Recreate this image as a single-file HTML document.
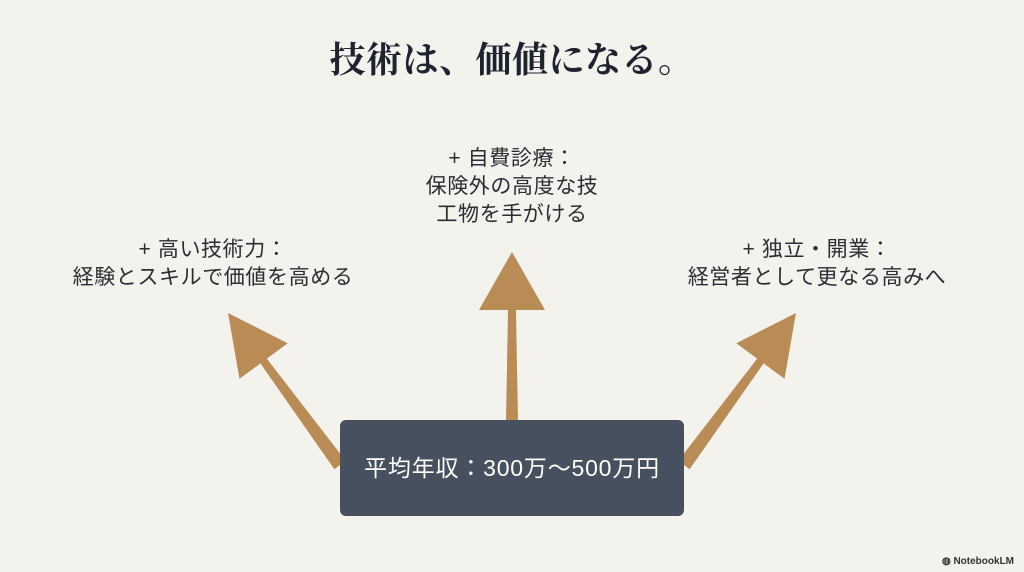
<!DOCTYPE html>
<html><head><meta charset="utf-8"><style>
html,body{margin:0;padding:0}
body{width:1024px;height:572px;background:#f3f2ec;position:relative;overflow:hidden;font-family:"Liberation Sans","Noto Sans CJK JP",sans-serif;color:#2a2d33}
.t{position:absolute;text-align:center;white-space:nowrap}
.title{left:0;width:1024px;top:36px;font-family:"Liberation Serif","Noto Serif CJK SC",serif;font-weight:bold;font-size:36px;letter-spacing:0.5px;color:#1e2330;line-height:48px}
.lab{font-size:21px;line-height:28px;letter-spacing:0.6px}
.box{position:absolute;left:340px;top:420px;width:344px;height:96px;background:#47505f;border-radius:6px;color:#fff;font-size:23px;letter-spacing:0.8px;line-height:96px;text-align:center}
.logo{position:absolute;right:10px;bottom:5px;font-size:10px;font-weight:bold;color:#333}
</style></head><body>
<svg width="1024" height="572" style="position:absolute;left:0;top:0">
<g fill="#b98b55">
<polygon points="228,313 287.7,343.2 266.8,358.6 345.6,460.8 334.4,469.2 260.4,363.4 239.5,378.8"/>
<polygon points="796,313 736.3,343.2 757.2,358.6 678.4,460.8 689.6,469.2 763.6,363.4 784.5,378.8"/>
<polygon points="512,252 479,310 508,310 506,422 518,422 516,310 545,310"/>
</g>
</svg>
<div class="t title">技術は、価値になる。</div>
<div class="t lab" style="left:412px;width:200px;top:145px">+ 自費診療：<br>保険外の高度な技<br>工物を手がける</div>
<div class="t lab" style="left:63px;width:300px;top:236px">+ 高い技術力：<br>経験とスキルで価値を高める</div>
<div class="t lab" style="left:667px;width:300px;top:236px">+ 独立・開業：<br>経営者として更なる高みへ</div>
<div class="box">平均年収：300万〜500万円</div>
<div class="logo">◍ NotebookLM</div>
</body></html>
